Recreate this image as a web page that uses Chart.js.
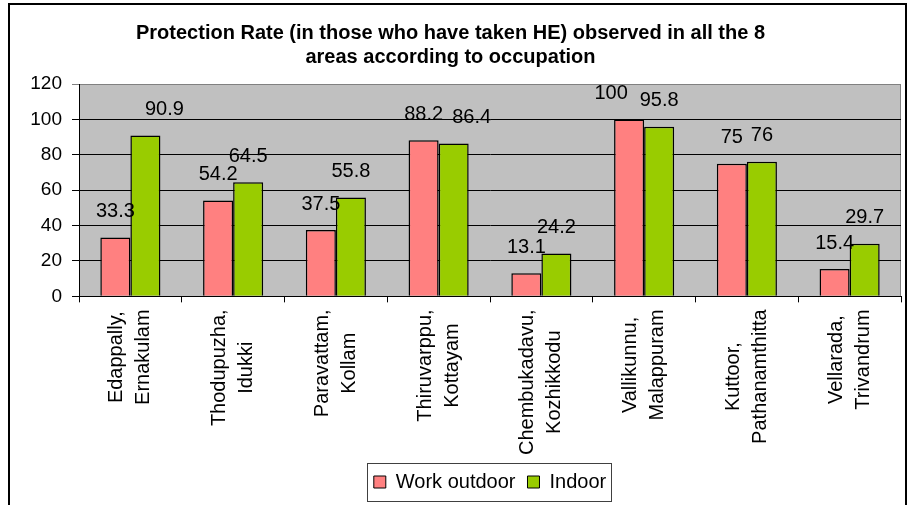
<!DOCTYPE html>
<html>
<head>
<meta charset="utf-8">
<style>
  html, body { margin: 0; padding: 0; background: #fff; }
  #wrap { width: 909px; height: 505px; }
</style>
</head>
<body>
<div id="wrap"><canvas id="myChart" width="909" height="505"></canvas></div>
<script src="https://cdn.jsdelivr.net/npm/chart.js@4.4.1/dist/chart.umd.min.js"></script>
<script>
  // areas, each label in two lines like the original sheet
  const areas = [
    ["Edappally,", "Ernakulam"],
    ["Thodupuzha,", "Idukki"],
    ["Paravattam,", "Kollam"],
    ["Thiruvarppu,", "Kottayam"],
    ["Chembukadavu,", "Kozhikkodu"],
    ["Vallikunnu,", "Malappuram"],
    ["Kuttoor,", "Pathanamthitta"],
    ["Vellarada,", "Trivandrum"]
  ];
  const workOutdoor = [33.3, 54.2, 37.5, 88.2, 13.1, 100, 75, 15.4];
  const indoor = [90.9, 64.5, 55.8, 86.4, 24.2, 95.8, 76, 29.7];
  const yTicks = [0, 20, 40, 60, 80, 100, 120];

  // a few value labels were dragged sideways in the original
  const nudgeOutdoor = [0, 0, 0, 0, 0, -18, 0, 0];
  const nudgeIndoor = [19, 0, 0, 18, 0, 0, 0, 0];

  const FONT = "'Liberation Sans', Arial, sans-serif";

  const frame = {
    id: 'frame',
    beforeDraw(chart) {
      const { ctx, chartArea: a } = chart;
      ctx.save();
      ctx.fillStyle = '#C0C0C0';
      ctx.fillRect(a.left, a.top, a.right - a.left, a.bottom - a.top);
      ctx.strokeStyle = '#808080';
      ctx.lineWidth = 1;
      ctx.beginPath();
      ctx.moveTo(a.left, a.top + 0.5);
      ctx.lineTo(a.right - 0.5, a.top + 0.5);
      ctx.lineTo(a.right - 0.5, a.bottom);
      ctx.stroke();
      ctx.restore();
    },
    afterDraw(chart) {
      const ctx = chart.ctx;
      ctx.save();
      // outer chart border (bottom edge is off the picture)
      ctx.strokeStyle = '#000';
      ctx.lineWidth = 2;
      ctx.strokeRect(9, 4, 897, 600);
      // box round the legend
      const boxes = chart.legend.legendHitBoxes;
      if (boxes && boxes.length) {
        let l = Infinity, r = -Infinity, t = Infinity, b = -Infinity;
        boxes.forEach(h => {
          l = Math.min(l, h.left); r = Math.max(r, h.left + h.width);
          t = Math.min(t, h.top); b = Math.max(b, h.top + h.height);
        });
        ctx.strokeStyle = '#404040';
        ctx.lineWidth = 1;
        ctx.strokeRect(Math.round(l - 7) + 0.5, Math.round(t - 9) + 0.5, Math.round(r - l + 12), Math.round(b - t + 18));
      }
      ctx.restore();
    }
  };

  // value labels above the bars
  const valueLabels = {
    id: 'valueLabels',
    afterDatasetsDraw(chart) {
      const ctx = chart.ctx;
      const nudges = [nudgeOutdoor, nudgeIndoor];
      ctx.save();
      ctx.font = '20px ' + FONT;
      ctx.fillStyle = '#000';
      ctx.textAlign = 'center';
      ctx.textBaseline = 'middle';
      chart.data.datasets.forEach((ds, di) => {
        chart.getDatasetMeta(di).data.forEach((bar, i) => {
          ctx.fillText(String(ds.data[i]), bar.x + nudges[di][i], bar.y - 26);
        });
      });
      ctx.restore();
    }
  };

  // x labels: rotated, lines centred on each other like Excel does it
  const areaLabels = {
    id: 'areaLabels',
    afterDraw(chart) {
      const ctx = chart.ctx;
      const xs = chart.scales.x;
      ctx.save();
      ctx.font = '20px ' + FONT;
      ctx.fillStyle = '#000';
      ctx.textAlign = 'center';
      ctx.textBaseline = 'middle';
      const top = xs.top + 13;
      const lineGap = 27;
      areas.forEach((lines, i) => {
        const cx = xs.getPixelForTick(i);
        const blockW = Math.max(...lines.map(s => ctx.measureText(s).width));
        lines.forEach((s, j) => {
          const x = cx + (j - (lines.length - 1) / 2) * lineGap;
          ctx.save();
          ctx.translate(x, top);
          ctx.rotate(-Math.PI / 2);
          ctx.fillText(s, -blockW / 2, 0);
          ctx.restore();
        });
      });
      ctx.restore();
    }
  };

  // move legend under the plot area centre
  const legendShift = {
    id: 'legendShift',
    afterLayout(chart) {
      const a = chart.chartArea;
      const mid = (a.left + a.right) / 2;
      const cur = (chart.legend.left + chart.legend.right) / 2;
      chart.legend.left += mid - cur;
      chart.legend.right += mid - cur;
    }
  };

  const ctx = document.getElementById('myChart').getContext('2d');
  Chart.defaults.font.family = FONT;
  Chart.defaults.color = '#000';

  const myChart = new Chart(ctx, {
    type: 'bar',
    data: {
      labels: areas,
      datasets: [{
        label: 'Work outdoor',
        data: workOutdoor,
        backgroundColor: '#FF8080',
        borderColor: '#000',
        borderWidth: 1.5,
        categoryPercentage: 0.585,
        barPercentage: 1
      }, {
        label: 'Indoor',
        data: indoor,
        backgroundColor: '#99CC00',
        borderColor: '#000',
        borderWidth: 1.5,
        categoryPercentage: 0.585,
        barPercentage: 1
      }]
    },
    options: {
      responsive: false,
      animation: false,
      layout: { padding: { left: 0, right: 8, top: 0, bottom: 3 } },
      plugins: {
        title: {
          display: true,
          text: ['Protection Rate (in those who have taken HE) observed in all the 8',
                 'areas according to occupation'],
          font: { size: 20, weight: 'bold' },
          lineHeight: 1.1,
          color: '#000',
          padding: { top: 21, bottom: 15 }
        },
        legend: {
          position: 'bottom',
          labels: {
            font: { size: 20 },
            boxWidth: 12,
            boxHeight: 12,
            padding: 12,
            color: '#000',
            generateLabels(chart) {
              return chart.data.datasets.map((ds, i) => ({
                text: ds.label,
                fillStyle: ds.backgroundColor,
                strokeStyle: '#000',
                lineWidth: 1,
                datasetIndex: i
              }));
            }
          }
        },
        tooltip: { enabled: false }
      },
      scales: {
        x: {
          afterFit(scale) { scale.height += 4; },
          grid: {
            display: true,
            drawOnChartArea: false,
            drawTicks: true,
            tickLength: 6,
            offset: true,
            color: '#000'
          },
          border: { display: true, color: '#000', width: 1 },
          ticks: {
            minRotation: 90,
            maxRotation: 90,
            autoSkip: false,
            font: { size: 20 },
            color: 'rgba(0,0,0,0)',
            padding: 4
          }
        },
        y: {
          min: 0,
          max: 120,
          afterFit(scale) { scale.width = 79; },
          afterBuildTicks(scale) { scale.ticks = yTicks.map(v => ({ value: v })); },
          grid: {
            color: ctx => ctx.tick && ctx.tick.value === 120 ? '#808080' : '#000',
            tickLength: 7,
            drawTicks: true
          },
          border: { display: true, color: '#000', width: 1 },
          ticks: {
            font: { size: 19 },
            color: '#000',
            padding: 10
          }
        }
      }
    },
    plugins: [frame, valueLabels, areaLabels, legendShift]
  });
</script>
</body>
</html>
